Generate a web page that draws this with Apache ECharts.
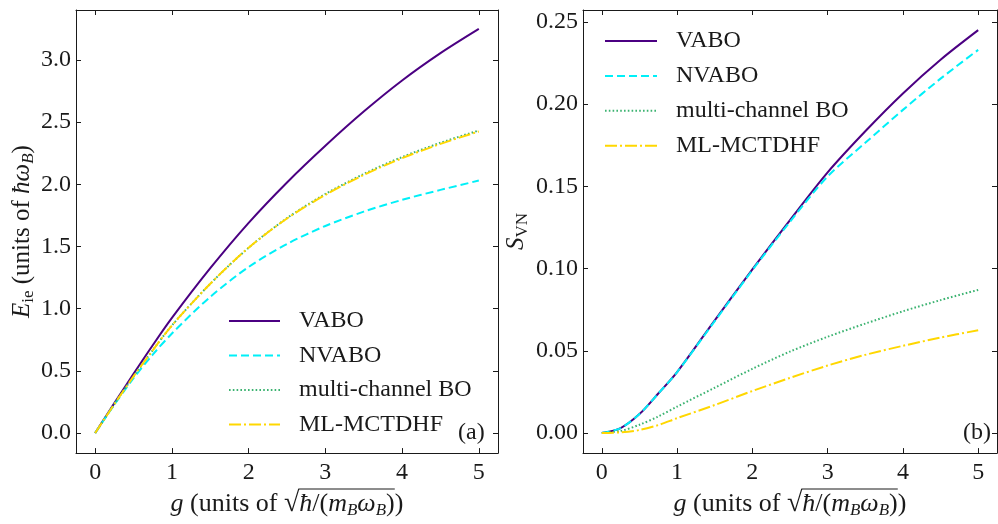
<!DOCTYPE html>
<html><head><meta charset="utf-8">
<script src="https://cdn.jsdelivr.net/npm/echarts@6/dist/echarts.min.js"></script>
<style>html,body{margin:0;padding:0;background:#fff}#c{width:998px;height:524px}</style>
</head><body><div id="c"></div>
<script>
// ---- data ----
const g = [0, 0.25, 0.5, 0.75, 1, 1.5, 2, 2.5, 3, 3.5, 4, 4.5, 5];
const seriesNames = ['VABO', 'NVABO', 'multi-channel BO', 'ML-MCTDHF'];
// panel (a): E_ie
const eVABO  = [0, 0.240, 0.475, 0.705, 0.925, 1.325, 1.69, 2.015, 2.31, 2.585, 2.835, 3.055, 3.25];
const eNVABO = [0, 0.228, 0.440, 0.630, 0.800, 1.095, 1.335, 1.52, 1.665, 1.78, 1.875, 1.955, 2.03];
const eMCBO  = [0, 0.232, 0.455, 0.665, 0.865, 1.20, 1.49, 1.728, 1.922, 2.083, 2.219, 2.334, 2.433];
const eML    = [0, 0.232, 0.455, 0.665, 0.865, 1.20, 1.49, 1.725, 1.915, 2.075, 2.21, 2.325, 2.425];
// panel (b): S_VN
const sVABO  = [0, 0.003, 0.0115, 0.024, 0.037, 0.0685, 0.0995, 0.1295, 0.1585, 0.1835, 0.2065, 0.227, 0.245];
const sNVABO = [0, 0.003, 0.0115, 0.024, 0.037, 0.068, 0.099, 0.1285, 0.156, 0.1765, 0.1965, 0.2155, 0.233];
const sMCBO  = [0, 0.0012, 0.005, 0.010, 0.016, 0.0275, 0.039, 0.0495, 0.0585, 0.0665, 0.074, 0.0808, 0.087];
const sML    = [0, 0.0004, 0.0018, 0.0048, 0.009, 0.017, 0.0255, 0.0335, 0.041, 0.0475, 0.053, 0.058, 0.0625];
// ticks
const xTicks = [0, 1, 2, 3, 4, 5];
const yTicksA = [0, 0.5, 1.0, 1.5, 2.0, 2.5, 3.0];
const yTicksB = [0, 0.05, 0.10, 0.15, 0.20, 0.25];
const panelLabels = ['(a)', '(b)'];

// ---- style ----
const FF = 'Liberation Serif';
const TC = '#1a1a1a';
const colors = ['#4b0082', '#00f0f8', '#3cb371', '#ffd700'];
const lineTypes = ['solid', [8, 4], [1.6, 2.2], [12, 3, 2, 3]];

const G = [{left: 76, top: 10, width: 422, height: 450}, {left: 583, top: 10, width: 414, height: 450}];

const rich = {
  i: {fontFamily: FF, fontStyle: 'italic', fontSize: 26, lineHeight: 30, color: TC},
  n: {fontFamily: FF, fontSize: 26, lineHeight: 30, color: TC},
  r: {fontFamily: FF, fontSize: 28, lineHeight: 30, color: TC},
  s: {fontFamily: FF, fontStyle: 'italic', fontSize: 17, lineHeight: 17, verticalAlign: 'bottom', color: TC},
  u: {fontFamily: FF, fontSize: 17, lineHeight: 17, verticalAlign: 'bottom', color: TC},
  yi: {fontFamily: FF, fontStyle: 'italic', fontSize: 25, lineHeight: 30, color: TC},
  yn: {fontFamily: FF, fontSize: 25, lineHeight: 30, color: TC}
};
const xName = '{i|g}{n| (units of }{r|√}{i|ħ}{n|/(}{i|m}{s|B}{i|ω}{s|B}{n|))}';
const xNameSegs = [['g','i'],[' (units of ','n'],['√','r'],['ħ','i'],['/(','n'],['m','i'],['B','s'],['ω','i'],['B','s'],[')','n'],[')','n']];
const X_NAME_GAP = 31;

function xAxisMain(grid) {
  return {
    type: 'value', gridIndex: grid, position: 'bottom', min: -0.25, max: 5.25,
    axisLine: {show: true, onZero: false, lineStyle: {color: TC, width: 1}},
    axisTick: {show: true, inside: true, length: 5, customValues: xTicks, lineStyle: {color: TC}},
    axisLabel: {show: true, customValues: xTicks, margin: 8, fontFamily: FF, fontSize: 24, color: TC,
                formatter: v => String(v)},
    splitLine: {show: false},
    name: xName, nameLocation: 'middle', nameGap: X_NAME_GAP,
    nameTextStyle: {rich: rich}
  };
}
function xAxisMirror(grid) {
  return {
    type: 'value', gridIndex: grid, position: 'top', min: -0.25, max: 5.25,
    axisLine: {show: true, onZero: false, lineStyle: {color: TC, width: 1}},
    axisTick: {show: true, inside: true, length: 5, customValues: xTicks, lineStyle: {color: TC}},
    axisLabel: {show: false}, splitLine: {show: false}
  };
}
function yAxisMain(grid, min, max, ticks, dec, name, gap) {
  return {
    type: 'value', gridIndex: grid, position: 'left', min: min, max: max,
    axisLine: {show: true, onZero: false, lineStyle: {color: TC, width: 1}},
    axisTick: {show: true, inside: true, length: 5, customValues: ticks, lineStyle: {color: TC}},
    axisLabel: {show: true, customValues: ticks, margin: 5, fontFamily: FF, fontSize: 24, color: TC,
                formatter: v => Number(v).toFixed(dec)},
    splitLine: {show: false},
    name: name, nameLocation: 'middle', nameGap: gap, nameTextStyle: {rich: rich}
  };
}
function yAxisMirror(grid, min, max, ticks) {
  return {
    type: 'value', gridIndex: grid, position: 'right', min: min, max: max,
    axisLine: {show: true, onZero: false, lineStyle: {color: TC, width: 1}},
    axisTick: {show: true, inside: true, length: 5, customValues: ticks, lineStyle: {color: TC}},
    axisLabel: {show: false}, splitLine: {show: false}
  };
}

const panelA = [eVABO, eNVABO, eMCBO, eML];
const panelB = [sVABO, sNVABO, sMCBO, sML];
const series = [];
[panelA, panelB].forEach((arrs, p) => {
  arrs.forEach((arr, k) => {
    series.push({
      type: 'line', name: seriesNames[k], xAxisIndex: p * 2, yAxisIndex: p * 2,
      data: g.map((x, i) => [x, arr[i]]), showSymbol: false, symbol: 'none',
      smooth: 0.3,
      lineStyle: {color: colors[k], width: 2, type: lineTypes[k]}, itemStyle: {color: colors[k]},
      z: 2 + k
    });
  });
});

const legendText = {fontFamily: FF, fontSize: 24, lineHeight: 24, color: TC, padding: [0, 0, 0, 14]};

// overline for the radical in the x-axis title
const cv = document.createElement('canvas').getContext('2d');
function segFont(st) {
  const s = rich[st];
  return (s.fontStyle === 'italic' ? 'italic ' : '') + s.fontSize + 'px "' + FF + '"';
}
function overline(grid) {
  const widths = xNameSegs.map(([t, st]) => { cv.font = segFont(st); return cv.measureText(t).width; });
  const total = widths.reduce((a, b) => a + b, 0);
  const cx = G[grid].left + G[grid].width / 2;
  let x = cx - total / 2;
  let x1 = 0, x2 = 0;
  widths.forEach((w, idx) => {
    if (idx === 3) x1 = x;
    if (idx === 10) x2 = x;
    x += w;
  });
  const y = G[grid].top + G[grid].height + X_NAME_GAP - 2;
  return {type: 'line', shape: {x1: x1 - 1, y1: y, x2: x2, y2: y}, style: {stroke: TC, lineWidth: 1}, z: 10};
}

const option = {
  animation: false,
  backgroundColor: '#fff',
  grid: G,
  xAxis: [xAxisMain(0), xAxisMirror(0), xAxisMain(1), xAxisMirror(1)],
  yAxis: [
    yAxisMain(0, -0.162, 3.402, yTicksA, 1, '{yi|E}{u|ie}{yn| (units of }{yi|ħω}{s|B}{yn|)}', 36),
    yAxisMirror(0, -0.162, 3.402, yTicksA),
    yAxisMain(1, -0.01225, 0.25725, yTicksB, 2, '{yi|S}{u|VN}', 52),
    yAxisMirror(1, -0.01225, 0.25725, yTicksB)
  ],
  legend: [
    {data: seriesNames, orient: 'vertical', left: 228, top: 309, padding: 0, itemWidth: 51, itemHeight: 14, itemGap: 10.5,
     selectedMode: false, textStyle: legendText, itemStyle: {opacity: 0, borderWidth: 0}},
    {data: seriesNames, orient: 'vertical', left: 604, top: 29, padding: 0, itemWidth: 52, itemHeight: 14, itemGap: 10.9,
     selectedMode: false, textStyle: legendText, itemStyle: {opacity: 0, borderWidth: 0}}
  ],
  graphic: [
    {type: 'text', left: 458, top: 421, style: {text: panelLabels[0], font: '24px "' + FF + '"', fill: TC}},
    {type: 'text', left: 963, top: 421, style: {text: panelLabels[1], font: '24px "' + FF + '"', fill: TC}},
    overline(0), overline(1)
  ],
  series: series
};
const chart = echarts.init(document.getElementById('c'), null, {renderer: 'canvas'});
chart.setOption(option);
</script></body></html>
